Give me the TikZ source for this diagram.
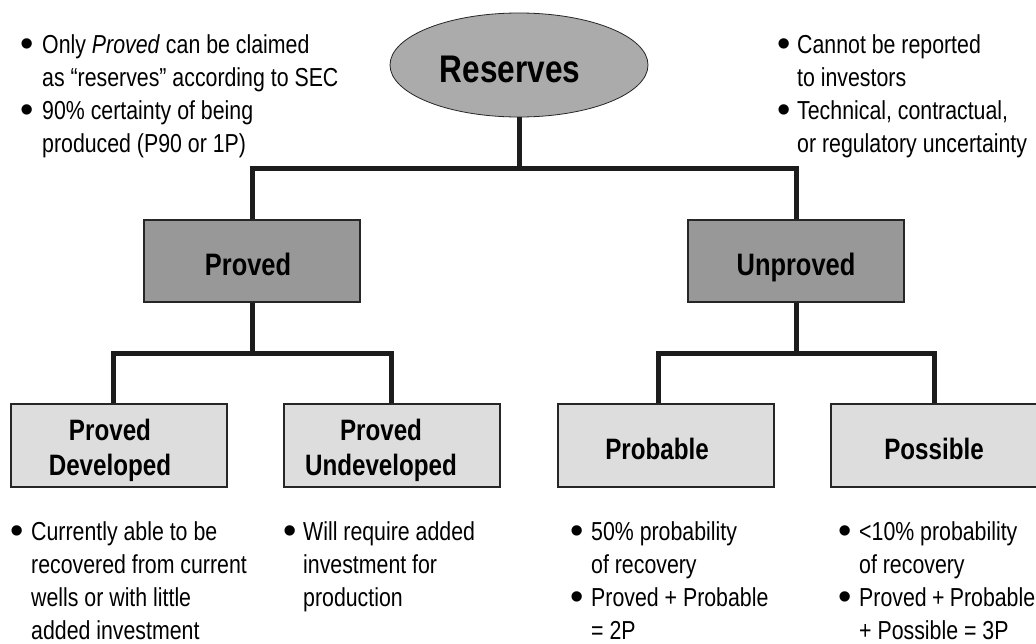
\documentclass[tikz,border=0pt]{standalone}
\usepackage{fontspec}
\setmainfont{Liberation Sans}[FakeStretch=0.82]
\newfontfamily\bulfont{Liberation Sans}
\usetikzlibrary{shapes.geometric}
\definecolor{lineC}{HTML}{1C1C1C}
\definecolor{borderC}{HTML}{262626}
\definecolor{resfill}{HTML}{ABABAB}
\definecolor{topfill}{HTML}{989898}
\definecolor{botfill}{HTML}{DDDDDD}
\newlength{\bw}\setlength{\bw}{21pt}
\newcommand{\bdot}{\raisebox{-3.5pt}{\bulfont\fontsize{38}{33}\selectfont •}}
\newcommand{\bul}[1]{\par\leftskip=\bw\noindent\llap{\makebox[\bw][l]{\bdot}}#1\par}
\newcommand{\blist}[2]{\parbox[t]{#1}{\fontsize{26}{33}\selectfont\raggedright #2}}
\newcommand{\twoline}[2]{\vtop{\halign{\hfil##\hfil\cr#1\cr#2\cr}}}
\tikzset{
  resnode/.style={ellipse, draw=borderC, line width=0.8pt, fill=resfill, minimum width=258pt, minimum height=104pt, inner sep=0pt},
  topbox/.style={rectangle, draw=borderC, line width=1.5pt, fill=topfill, minimum width=216pt, minimum height=82pt, inner sep=0pt},
  botbox/.style={rectangle, draw=borderC, line width=1.5pt, fill=botfill, minimum width=216pt, minimum height=83pt, inner sep=0pt},
  conn/.style={draw=lineC, line width=5pt},
  restxt/.style={anchor=base, inner sep=0pt, font=\bfseries\fontsize{38.5}{40}\selectfont},
  toptxt/.style={anchor=base, inner sep=0pt, font=\bfseries\fontsize{31}{35}\selectfont},
  bottxt/.style={anchor=base, inner sep=0pt, font=\bfseries\fontsize{29.5}{35}\selectfont},
  notes/.style={anchor=base west, inner sep=0pt}
}
\begin{document}
\begin{tikzpicture}[x=1pt,y=-1pt]
\useasboundingbox (0,0) rectangle (1036,643);
\clip (0,0) rectangle (1036,643);
\fill[white] (0,0) rectangle (1036,643);

\node[resnode] (res) at (519,65) {};
\node[topbox] (proved) at (252,261) {};
\node[topbox] (unproved) at (796,261) {};
\node[botbox] (pd) at (119,445.5) {};
\node[botbox] (pu) at (392,445.5) {};
\node[botbox] (prob) at (666,445.5) {};
\node[botbox] (poss) at (939,445.5) {};

\coordinate (j1) at (519,168);
\coordinate (j2) at (252,353);
\coordinate (j3) at (796,353);

\draw[conn] (res.south) -- (j1);
\draw[conn] (proved.north) |- (j1) -| (unproved.north);
\draw[conn] (proved.south) -- (j2);
\draw[conn] ([xshift=-6pt]pd.north) |- (j2) -| ([xshift=-1pt]pu.north);
\draw[conn] (unproved.south) -- (j3);
\draw[conn] ([xshift=-8pt]prob.north) |- (j3) -| ([xshift=-5pt]poss.north);

\node[restxt] (restext) at (510,82) {Reserves};
\node[toptxt] (provedtext) at (248,275) {Proved};
\node[toptxt] (unprovedtext) at (796,275) {Unproved};
\node[bottxt] (pdtext) at (110,440) {\twoline{Proved}{Developed}};
\node[bottxt] (putext) at (381,440) {\twoline{Proved}{Undeveloped}};
\node[bottxt] (probtext) at (657,459) {Probable};
\node[bottxt] (posstext) at (934,459) {Possible};

\node[notes] (noteTL) at (20,53) {\setlength{\bw}{22pt}\blist{330pt}{%
  \bul{Only \textit{Proved} can be claimed\\as “reserves” according to SEC}%
  \bul{90\% certainty of being\\produced (P90 or 1P)}}};
\node[notes] (noteTR) at (777,53) {\setlength{\bw}{20pt}\blist{256pt}{%
  \bul{Cannot be reported\\to investors}%
  \bul{Technical, contractual,\\or regulatory uncertainty}}};
\node[notes] (notePD) at (10,540) {\setlength{\bw}{21pt}\blist{250pt}{%
  \bul{Currently able to be\\recovered from current\\wells or with little\\added investment}}};
\node[notes] (notePU) at (283,540) {\setlength{\bw}{20pt}\blist{230pt}{%
  \bul{Will require added\\investment for\\production}}};
\node[notes] (noteProb) at (570,540) {\setlength{\bw}{21pt}\blist{230pt}{%
  \bul{50\% probability\\of recovery}%
  \bul{Proved + Probable\\= 2P}}};
\node[notes] (notePoss) at (838,540) {\setlength{\bw}{21pt}\blist{197pt}{%
  \bul{<10\% probability\\of recovery}%
  \bul{Proved + Probable\\+ Possible = 3P}}};
\end{tikzpicture}
\end{document}
